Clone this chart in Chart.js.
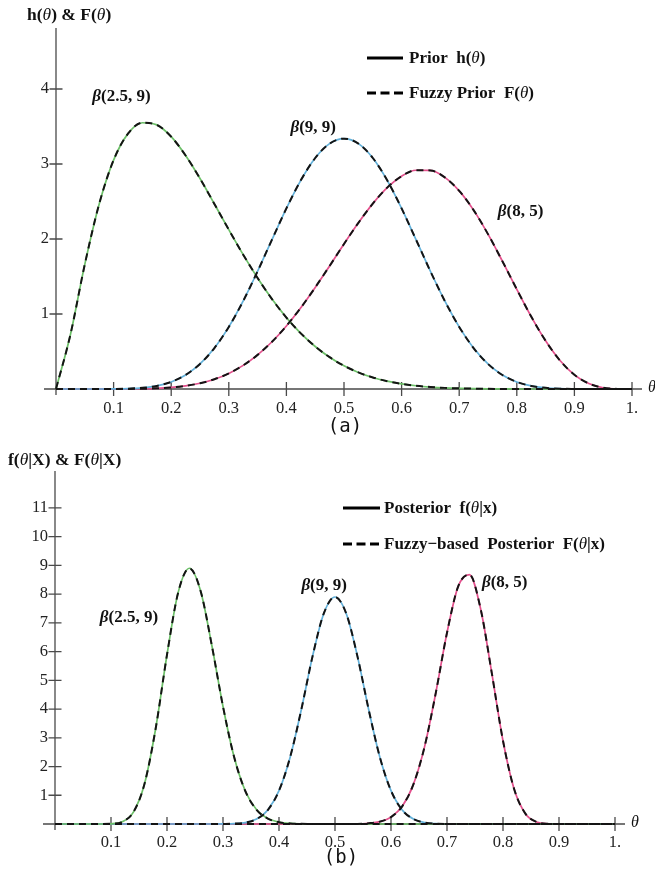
<!DOCTYPE html>
<html><head><meta charset="utf-8">
<script src="https://cdn.jsdelivr.net/npm/chart.js@4.4.1/dist/chart.umd.min.js"></script>
<style>
html,body{margin:0;padding:0;background:#fff;}
#wrap{position:relative;width:655px;height:877px;overflow:hidden;background:#fff;}
canvas{position:absolute;left:0;}
</style></head><body>
<div id="wrap">
<canvas id="cA" width="655" height="440" style="top:0px"></canvas>
<canvas id="cB" width="655" height="437" style="top:440px"></canvas>
</div>
<script>
// ---------- DATA ----------
const thetaA = [0,0.025,0.05,0.075,0.1,0.125,0.15,0.175,0.2,0.225,0.25,0.275,0.3,0.325,0.35,0.375,0.4,0.425,0.45,0.475,0.5,0.525,0.55,0.575,0.6,0.625,0.65,0.675,0.7,0.725,0.75,0.775,0.8,0.825,0.85,0.875,0.9,0.925,0.95,0.975,1];
const priorBeta2_5_9 = [0,0.724,1.662,2.468,3.052,3.405,3.550,3.522,3.364,3.113,2.806,2.467,2.124,1.791,1.480,1.199,0.952,0.742,0.567,0.424,0.310,0.221,0.154,0.104,0.069,0.043,0.026,0.015,0.0086,0.0045,0.0022,0.001,0.0004,0,0,0,0,0,0,0,0];
const priorBeta9_9 = [0,0,0,0.0001,0.0009,0.0045,0.0153,0.0413,0.094,0.187,0.334,0.546,0.828,1.174,1.570,1.992,2.408,2.782,3.080,3.272,3.338,3.272,3.080,2.782,2.408,1.992,1.570,1.174,0.828,0.546,0.334,0.187,0.094,0.0413,0.0153,0.0045,0.0009,0.0001,0,0,0];
const priorBeta8_5 = [0,0,0,0,0.0002,0.0011,0.0035,0.0092,0.0208,0.0417,0.0765,0.130,0.208,0.315,0.455,0.630,0.841,1.084,1.354,1.641,1.934,2.216,2.472,2.685,2.838,2.917,2.914,2.822,2.642,2.385,2.065,1.704,1.329,0.966,0.643,0.380,0.189,0.073,0.017,0.0013,0];
const fuzzyPriorBeta2_5_9 = priorBeta2_5_9;
const fuzzyPriorBeta9_9 = priorBeta9_9;
const fuzzyPriorBeta8_5 = priorBeta8_5;

const thetaB = [0,0.02,0.04,0.06,0.08,0.1,0.12,0.14,0.16,0.18,0.2,0.22,0.24,0.26,0.28,0.3,0.32,0.34,0.36,0.38,0.4,0.42,0.44,0.46,0.48,0.5,0.52,0.54,0.56,0.58,0.6,0.62,0.64,0.66,0.68,0.7,0.72,0.74,0.76,0.78,0.8,0.82,0.84,0.86,0.88,0.9,0.92,0.94,0.96,0.98,1];
const postBeta2_5_9 = [0,0,0,0,0.0003,0.0075,0.076,0.413,1.41,3.35,5.89,8.06,8.90,8.11,6.22,4.09,2.32,1.14,0.494,0.188,0.063,0.0186,0.005,0.001,0,0,0,0,0,0,0,0,0,0,0,0,0,0,0,0,0,0,0,0,0,0,0,0,0,0,0];
const postBeta9_9 = [0,0,0,0,0,0,0,0,0,0,0,0,0,0,0,0.0022,0.0116,0.049,0.170,0.486,1.159,2.335,3.995,5.842,7.328,7.90,7.328,5.842,3.995,2.335,1.159,0.486,0.170,0.049,0.0116,0.0022,0,0,0,0,0,0,0,0,0,0,0,0,0,0,0];
const postBeta8_5 = [0,0,0,0,0,0,0,0,0,0,0,0,0,0,0,0,0,0,0,0,0,0,0,0,0,0,0,0,0.0245,0.082,0.240,0.615,1.379,2.694,4.565,6.655,8.27,8.68,7.49,5.25,2.897,1.208,0.360,0.071,0.0084,0.0005,0,0,0,0,0];
const fuzzyPostBeta2_5_9 = postBeta2_5_9;
const fuzzyPostBeta9_9 = postBeta9_9;
const fuzzyPostBeta8_5 = postBeta8_5;

const xTickValues = [0.1,0.2,0.3,0.4,0.5,0.6,0.7,0.8,0.9,1];
const xTickLabels = ['0.1','0.2','0.3','0.4','0.5','0.6','0.7','0.8','0.9','1.'];
const yTickValuesA = [1,2,3,4];
const yTickLabelsA = ['1','2','3','4'];
const yTickValuesB = [1,2,3,4,5,6,7,8,9,10,11];
const yTickLabelsB = ['1','2','3','4','5','6','7','8','9','10','11'];

// ---------- STYLE / DRAW ----------
const SERIF = '"Liberation Serif","Times New Roman",serif';
const GREEN = '#6cbf68', BLUE = '#62b0d9', PINK = '#e2508c', DASH = '#141414';

function rich(ctx, x, y, parts, size, align) {
  let w = 0;
  parts.forEach(p => { ctx.font = p[1] + ' ' + size + 'px ' + SERIF; w += ctx.measureText(p[0]).width; });
  let cx = align === 'center' ? x - w / 2 : x;
  parts.forEach(p => { ctx.font = p[1] + ' ' + size + 'px ' + SERIF; ctx.fillText(p[0], cx, y); cx += ctx.measureText(p[0]).width; });
}

function makeDeco(cfg) {
  return {
    id: 'deco',
    beforeDatasetsDraw(chart) {
      const ctx = chart.ctx, xs = chart.scales.x, ys = chart.scales.y;
      const x0 = xs.getPixelForValue(0), y0 = ys.getPixelForValue(0);
      ctx.save();
      ctx.strokeStyle = '#4a4a4a'; ctx.lineWidth = 1.3;
      ctx.beginPath();
      ctx.moveTo(cfg.axisLeft, y0); ctx.lineTo(cfg.axisRight, y0);
      ctx.moveTo(x0, chart.chartArea.top - 1); ctx.lineTo(x0, y0 + 6);
      cfg.xTickValues.forEach(v => { const px = xs.getPixelForValue(v); ctx.moveTo(px, y0 - 7); ctx.lineTo(px, y0 + 7); });
      cfg.yTickValues.forEach(v => { const py = ys.getPixelForValue(v); ctx.moveTo(x0 - 6.5, py); ctx.lineTo(x0 + 6.5, py); });
      ctx.stroke();
      ctx.restore();
    },
    afterDraw(chart) {
      const ctx = chart.ctx, xs = chart.scales.x, ys = chart.scales.y;
      const y0 = ys.getPixelForValue(0);
      ctx.save();
      ctx.fillStyle = '#111';
      ctx.textBaseline = 'middle'; ctx.textAlign = 'left';
      ctx.font = 'italic 16px ' + SERIF;
      ctx.fillText('\u03B8', cfg.thetaX, y0 - 1);
      ctx.textBaseline = 'alphabetic';
      rich(ctx, cfg.titleX, cfg.titleY, cfg.titleParts, 17.5);
      ctx.strokeStyle = '#000'; ctx.lineWidth = 3;
      ctx.beginPath(); ctx.moveTo(cfg.legX0, cfg.legY1); ctx.lineTo(cfg.legX1, cfg.legY1); ctx.stroke();
      ctx.setLineDash([9, 4.5]);
      ctx.beginPath(); ctx.moveTo(cfg.legX0, cfg.legY2); ctx.lineTo(cfg.legX1, cfg.legY2); ctx.stroke();
      ctx.setLineDash([]);
      ctx.textBaseline = 'middle';
      rich(ctx, cfg.legTextX, cfg.legY1 + 1, cfg.leg1, 17);
      rich(ctx, cfg.legTextX, cfg.legY2 + 1, cfg.leg2, 17);
      cfg.curveLabels.forEach(l => {
        rich(ctx, xs.getPixelForValue(l.x), ys.getPixelForValue(l.y), [['\u03B2', 'italic bold'], [l.t, 'bold']], 17);
      });
      ctx.textAlign = 'center';
      ctx.font = '19px "DejaVu Sans Mono", monospace';
      ctx.fillStyle = '#111';
      ctx.fillText(cfg.caption, cfg.capX, cfg.capY);
      ctx.restore();
    }
  };
}

function buildChart(id, cfg) {
  const datasets = [];
  const common = { pointRadius: 0, cubicInterpolationMode: 'monotone', clip: false, fill: false };
  cfg.series.forEach(s => datasets.push(Object.assign({
    data: cfg.theta.map((t, i) => ({ x: t, y: s.fuzzy[i] })),
    borderColor: DASH, borderWidth: 2, borderDash: [7, 5]
  }, common)));
  cfg.series.forEach(s => datasets.push(Object.assign({
    data: cfg.theta.map((t, i) => ({ x: t, y: s.crisp[i] })),
    borderColor: s.color, borderWidth: 1.7
  }, common)));
  return new Chart(document.getElementById(id), {
    type: 'line',
    data: { datasets },
    options: {
      responsive: false, animation: false, devicePixelRatio: 1,
      layout: { padding: { left: 0, right: cfg.padRight, top: cfg.padTop, bottom: 0 } },
      plugins: { legend: { display: false }, tooltip: { enabled: false } },
      scales: {
        x: {
          type: 'linear', min: 0, max: 1,
          grid: { display: false, drawTicks: false, tickLength: 0 },
          border: { display: false },
          afterBuildTicks: s => { s.ticks = cfg.xTickValues.map(v => ({ value: v })); },
          afterFit: s => { s.height = cfg.xHeight; },
          ticks: { autoSkip: false, maxRotation: 0, minRotation: 0, padding: cfg.xPad, color: '#222',
                   font: { family: SERIF, size: 16.5 }, callback: (v, i) => cfg.xTickLabels[i] }
        },
        y: {
          type: 'linear', min: 0, max: cfg.yMax,
          grid: { display: false, drawTicks: false, tickLength: 0 },
          border: { display: false },
          afterBuildTicks: s => { s.ticks = cfg.yTickValues.map(v => ({ value: v })); },
          afterFit: s => { s.width = cfg.yWidth; },
          ticks: { autoSkip: false, padding: 7, color: '#222',
                   font: { family: SERIF, size: 16.5 }, callback: (v, i) => cfg.yTickLabels[i] }
        }
      }
    },
    plugins: [makeDeco(cfg)]
  });
}

buildChart('cA', {
  theta: thetaA,
  series: [
    { crisp: priorBeta2_5_9, fuzzy: fuzzyPriorBeta2_5_9, color: GREEN },
    { crisp: priorBeta9_9, fuzzy: fuzzyPriorBeta9_9, color: BLUE },
    { crisp: priorBeta8_5, fuzzy: fuzzyPriorBeta8_5, color: PINK }
  ],
  xTickValues, xTickLabels, yTickValues: yTickValuesA, yTickLabels: yTickLabelsA,
  yMax: 4.8, padTop: 29, padRight: 23, xHeight: 51, yWidth: 56, xPad: 10,
  axisLeft: 44, axisRight: 642, thetaX: 648,
  titleX: 27, titleY: 20,
  titleParts: [['h(', 'bold'], ['\u03B8', 'italic'], [') & F(', 'bold'], ['\u03B8', 'italic'], [')', 'bold']],
  legX0: 367, legX1: 403, legY1: 58, legY2: 93, legTextX: 409,
  leg1: [['Prior  h(', 'bold'], ['\u03B8', 'italic'], [')', 'bold']],
  leg2: [['Fuzzy Prior  F(', 'bold'], ['\u03B8', 'italic'], [')', 'bold']],
  curveLabels: [
    { x: 0.063, y: 3.9, t: '(2.5, 9)' },
    { x: 0.407, y: 3.48, t: '(9, 9)' },
    { x: 0.767, y: 2.36, t: '(8, 5)' }
  ],
  caption: '(a)', capX: 345, capY: 427
});

buildChart('cB', {
  theta: thetaB,
  series: [
    { crisp: postBeta2_5_9, fuzzy: fuzzyPostBeta2_5_9, color: GREEN },
    { crisp: postBeta9_9, fuzzy: fuzzyPostBeta9_9, color: BLUE },
    { crisp: postBeta8_5, fuzzy: fuzzyPostBeta8_5, color: PINK }
  ],
  xTickValues, xTickLabels, yTickValues: yTickValuesB, yTickLabels: yTickLabelsB,
  yMax: 12.25, padTop: 32, padRight: 40, xHeight: 53, yWidth: 55, xPad: 9,
  axisLeft: 43, axisRight: 625, thetaX: 631,
  titleX: 8, titleY: 25,
  titleParts: [['f(', 'bold'], ['\u03B8', 'italic'], ['|X) & F(', 'bold'], ['\u03B8', 'italic'], ['|X)', 'bold']],
  legX0: 343, legX1: 380, legY1: 68, legY2: 104, legTextX: 384,
  leg1: [['Posterior  f(', 'bold'], ['\u03B8', 'italic'], ['|x)', 'bold']],
  leg2: [['Fuzzy\u2212based  Posterior  F(', 'bold'], ['\u03B8', 'italic'], ['|x)', 'bold']],
  curveLabels: [
    { x: 0.08, y: 7.2, t: '(2.5, 9)' },
    { x: 0.44, y: 8.28, t: '(9, 9)' },
    { x: 0.7625, y: 8.39, t: '(8, 5)' }
  ],
  caption: '(b)', capX: 341, capY: 418
});
</script>
</body></html>
